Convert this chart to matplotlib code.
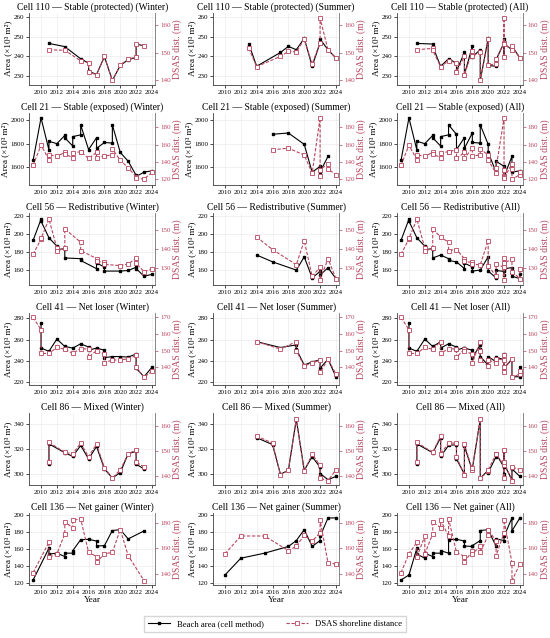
import numpy as np
import matplotlib
matplotlib.use("Agg")
import matplotlib.pyplot as plt
from matplotlib.lines import Line2D

plt.rcParams['font.family'] = ['Liberation Serif', 'DejaVu Serif']

nan = np.nan

### Data (year, beach area x10^3 m2, DSAS distance m)
cell_names = ["Cell 110 \u2014 Stable (protected)", "Cell 21 \u2014 Stable (exposed)",
              "Cell 56 \u2014 Redistributive", "Cell 41 \u2014 Net loser",
              "Cell 86 \u2014 Mixed", "Cell 136 \u2014 Net gainer"]
seasons = ["Winter", "Summer", "All"]

c110_w_year = [2011, 2013, 2015, 2016, 2016, 2017, 2018, 2019, 2020, 2021, 2022, 2022, 2023]
c110_w_area = [246.6, 245.0, 238.8, 236.6, 232.5, 230.8, 239.8, 227.8, 235.4, 238.3, 239.5, 246.4, 245.3]
c110_w_dsas = [151.0, 150.8, 147.0, 146.3, 143.0, 142.0, 148.6, 140.0, 145.5, 147.7, 148.3, 153.2, 152.4]
c110_s_year = [2013, 2014, 2017, 2018, 2019, 2020, 2021, 2022, 2022, 2023, 2024]
c110_s_area = [246.3, 235.0, 242.0, 245.1, 243.4, 249.2, 235.0, 246.9, 248.8, 243.4, 239.2]
c110_s_dsas = [151.5, 144.9, 148.6, 150.4, 150.2, 154.7, 145.9, 153.5, 162.4, 150.9, 148.0]

c21_w_year = [2009, 2010, 2011, 2011, 2012, 2013, 2013, 2014, 2014, 2015, 2015, 2016, 2017, 2017,
              2018, 2019, 2019, 2020, 2021, 2022, 2022, 2023, 2024]
c21_w_area = [1657, 2020, 1745, 1820, 1800, 1870, 1850, 1780, 1860, 1875, 1960, 1750, 1850, 1760,
              1810, 1805, 1960, 1725, 1650, 1530, 1520, 1557, 1568]
c21_w_dsas = [136, 159.5, 142.5, 148.5, 146.5, 151, 149, 145, 150, 152, 152, 144, 151, 144,
              147, 148, 155, 142, 133, 123, 121, 120, 128]
c21_s_year = [2016, 2018, 2020, 2021, 2022, 2022, 2022, 2023, 2023, 2024]
c21_s_area = [1880, 1891, 1794, 1557, 1606, 1530, 1560, 1691, nan, nan]
c21_s_dsas = [154, 156, 148, 127, 191, 124, 131, 138, 132, 125]

c56_w_year = [2009, 2010, 2010, 2011, 2012, 2012, 2013, 2013, 2015, 2015, 2017, 2017, 2018, 2018,
              2020, 2021, 2022, 2022, 2023, 2024]
c56_w_area = [193.2, 216.5, 214.4, 196.0, 186.8, 183.0, 184.0, 173.8, 173.0, 171.0, 162.0, 168.0,
              164.0, 159.3, 159.3, 160.0, 163.5, 162.0, 153.6, 155.7]
c56_w_dsas = [137.2, 145.2, 145.5, 155.5, 140.5, 138.8, 140.5, 150.5, 143.5, 139.2, 135.0, 133.5,
              133.0, 132.0, 131.3, 132.2, 135.2, 132.5, 128.2, 129.5]
c56_s_year = [2014, 2016, 2019, 2020, 2021, 2022, 2022, 2023, 2024]
c56_s_area = [177.0, 169.5, 160.4, 175.0, 151.8, 158.9, 155.0, 163.0, 151.0]
c56_s_dsas = [146.2, 139.7, 131.8, 144.3, 125.8, 130.5, 124.0, 134.9, 124.6]

c41_w_year = [2009, 2010, 2010, 2011, 2012, 2013, 2014, 2015, 2016, 2016, 2017, 2018, 2018, 2019,
              2020, 2021, 2022, 2022, 2023, 2024]
c41_w_area = [nan, 276.0, 252.0, 249.0, 260.5, 253.5, 252.0, 256.0, 253.0, 250.0, 252.0, 250.0,
              243.0, 244.0, 244.0, 243.5, 246.5, 233.0, 225.0, 234.0]
c41_w_dsas = [170.0, 162.7, 148.4, 148.4, 152.0, 150.9, 148.4, 151.3, 151.0, 146.1, 150.1, 147.8,
              142.9, 144.4, 144.6, 145.1, 147.2, 140.0, 134.1, 137.7]
c41_s_year = [2014, 2017, 2019, 2019, 2020, 2021, 2022, 2022, 2023, 2024]
c41_s_area = [258.0, 252.5, 255.0, 251.0, 236.0, 239.0, 241.0, 233.0, 241.5, 225.0]
c41_s_dsas = [155.5, 151.0, 155.5, 150.0, 141.0, 142.5, 144.5, 137.0, 145.0, 136.0]

c86_w_year = [2011, 2011, 2013, 2014, 2015, 2016, 2017, 2018, 2019, 2020, 2021, 2022, 2022, 2023]
c86_w_area = [307.7, 324.0, 316.8, 313.9, 322.7, 311.8, 321.9, 303.7, 296.3, 300.8, 316.0, 318.0, 307.5, 303.7]
c86_w_dsas = [145.6, 153.5, 149.5, 148.9, 153.2, 147.8, 152.8, 143.4, 139.2, 142.6, 148.9, 150.5, 145.6, 143.7]
c86_s_year = [2014, 2016, 2017, 2018, 2019, 2020, 2021, 2022, 2022, 2023, 2024]
c86_s_area = [329.0, 323.4, 299.4, 302.6, 344.0, 302.6, 313.7, 305.0, 300.0, 295.0, 297.6]
c86_s_dsas = [156.0, 153.2, 140.4, 142.5, 162.7, 142.0, 148.8, 144.3, 139.2, 138.2, 142.6]

c136_w_year = [2009, 2011, 2011, 2012, 2013, 2013, 2014, 2014, 2015, 2016, 2017, 2017, 2018, 2019,
               2020, 2021, 2023]
c136_w_area = [123.0, 161.0, 154.0, 155.0, 151.0, 155.0, 155.0, 158.0, 171.0, 171.5, 169.5, 163.5,
               164.0, 182.0, 183.0, 172.0, 181.5]
c136_w_dsas = [140.8, 164.6, 152.8, 155.4, 171.2, 180.5, 176.0, 181.8, 183.0, 156.7, 153.4, 148.9,
               155.4, 156.7, 174.5, 154.0, 134.5]
c136_s_year = [2010, 2012, 2015, 2018, 2019, 2020, 2021, 2022, 2022, 2023, 2024]
c136_s_area = [129.0, 149.0, 155.0, 163.0, 170.0, 183.0, 163.0, 170.0, 175.0, 197.0, 197.0]
c136_s_dsas = [155.5, 169.5, 169.5, 158.0, 161.5, 170.0, 165.5, 172.0, 182.0, 148.5, 147.5]

cells = [
    (c110_w_year, c110_w_area, c110_w_dsas, c110_s_year, c110_s_area, c110_s_dsas),
    (c21_w_year, c21_w_area, c21_w_dsas, c21_s_year, c21_s_area, c21_s_dsas),
    (c56_w_year, c56_w_area, c56_w_dsas, c56_s_year, c56_s_area, c56_s_dsas),
    (c41_w_year, c41_w_area, c41_w_dsas, c41_s_year, c41_s_area, c41_s_dsas),
    (c86_w_year, c86_w_area, c86_w_dsas, c86_s_year, c86_s_area, c86_s_dsas),
    (c136_w_year, c136_w_area, c136_w_dsas, c136_s_year, c136_s_area, c136_s_dsas),
]

# axis ranges / ticks per row
area_lim = [(225.6, 262.2), (1449, 2063), (144.1, 223.5), (217.3, 285.1), (290.7, 349), (117, 202.8)]
area_ticks = [[230, 240, 250, 260], [1600, 1800, 2000], [160, 180, 200, 220], [220, 240, 260, 280],
              [300, 320, 340], [120, 140, 160, 180, 200]]
dsas_lim = [(138.4, 164.3), (113.4, 197), (121.3, 158.8), (129.5, 172.7), (136.5, 165.2), (131, 187.5)]
dsas_ticks = [[140, 150, 160], [120, 140, 160, 180], [130, 140, 150], [140, 150, 160, 170],
              [140, 150, 160], [140, 160, 180]]

pink = '#b8465e'


def merge(wy, wa, wd, sy, sa, sd):
    rows = [(y, 0, a, d) for y, a, d in zip(sy, sa, sd)] + [(y, 1, a, d) for y, a, d in zip(wy, wa, wd)]
    rows.sort(key=lambda r: (r[0], r[1]))
    return [r[0] for r in rows], [r[2] for r in rows], [r[3] for r in rows]


fig = plt.figure(figsize=(5.5, 6.38), dpi=100)
gs = fig.add_gridspec(6, 3, left=0.053, right=0.951, top=0.980, bottom=0.083,
                      wspace=0.46, hspace=0.39)

for r, cell in enumerate(cells):
    wy, wa, wd, sy, sa, sd = cell
    panels = [(wy, wa, wd), (sy, sa, sd), merge(wy, wa, wd, sy, sa, sd)]
    for c, (yr, area, dsas) in enumerate(panels):
        ax = fig.add_subplot(gs[r, c])
        ax2 = ax.twinx()
        yr = np.array(yr, dtype=float)
        area = np.array(area, dtype=float)
        dsas = np.array(dsas, dtype=float)
        ok = np.isfinite(area)
        ax.plot(yr[ok], area[ok], color='black', lw=0.8, marker='s', ms=2.0, zorder=3)
        ok = np.isfinite(dsas)
        ax2.plot(yr[ok], dsas[ok], color=pink, lw=0.8, ls=(0, (3, 1.5)), marker='s', ms=2.7,
                 mfc='white', mec=pink, mew=0.6)

        ax.set_xlim(2008.5, 2024.4)
        ax.set_xticks(range(2010, 2025, 2))
        ax.set_ylim(*area_lim[r])
        ax.set_yticks(area_ticks[r])
        ax2.set_ylim(*dsas_lim[r])
        ax2.set_yticks(dsas_ticks[r])
        ax.grid(True, color='0.9', lw=0.4)

        ax.set_title(f"{cell_names[r]} ({seasons[c]})", fontsize=6.9, pad=2.5)
        ax.set_ylabel("Area (\u00d710\u00b3 m\u00b2)", fontsize=6.6, labelpad=1)
        ax2.set_ylabel("DSAS dist. (m)", fontsize=6.9, color=pink, labelpad=1.5)
        if r == 5:
            ax.set_xlabel("Year", fontsize=6.6, labelpad=0.5)

        ax.tick_params(labelsize=5, length=2, width=0.5, pad=1.5)
        ax2.tick_params(labelsize=5, length=2, width=0.5, pad=1.5, colors=pink)
        for a in (ax, ax2):
            a.spines['top'].set_visible(False)
            for s in ('left', 'bottom', 'right'):
                a.spines[s].set_linewidth(0.5)
                a.spines[s].set_color('0.3')
        ax2.spines['right'].set_color('0.55')

handles = [Line2D([], [], color='black', lw=0.8, marker='s', ms=2.0),
           Line2D([], [], color=pink, lw=0.8, ls=(0, (3, 1.5)), marker='s', ms=2.7,
                  mfc='white', mec=pink, mew=0.6)]
fig.legend(handles, ["Beach area (cell method)", "DSAS shoreline distance"],
           loc='lower center', bbox_to_anchor=(0.5, 0.002), ncol=2, fontsize=6.2,
           frameon=True, fancybox=False, edgecolor='0.8', handlelength=2.6,
           columnspacing=2.5, borderpad=0.5)

fig.savefig("out.png", dpi=100)
